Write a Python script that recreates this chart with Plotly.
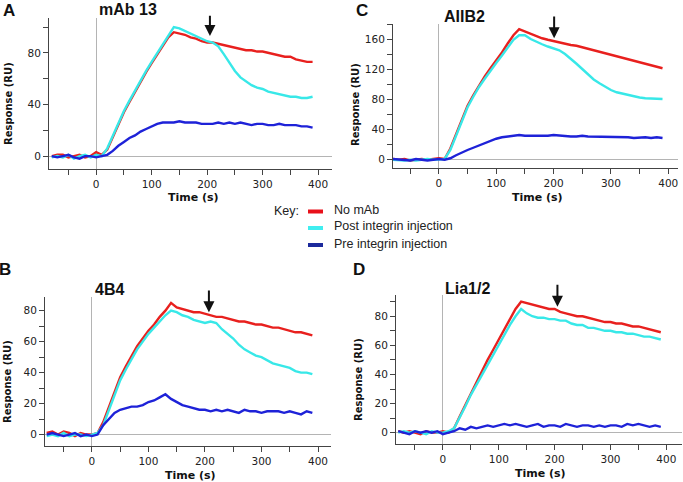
import plotly.graph_objects as go

W, H = 683, 482

# ---------------- data ----------------
time_s = list(range(-80, 400, 10))

series_names = ["No mAb", "Post integrin injection", "Pre integrin injection"]
panel_letters = ["A", "C", "B", "D"]
panel_titles = ["mAb 13", "AIIB2", "4B4", "Lia1/2"]
arrow_times = [205, 201, 207, 205]

red_A = [0, 1, 1, -1, 0, 1, -1, 0, 3, 1,
         5, 15, 25, 34, 42, 50, 58, 65, 72, 79,
         86, 92, 96, 95, 94, 92, 91, 89, 88, 88,
         87, 86, 85, 84, 83, 82, 82, 81, 81, 80,
         79, 78, 77, 77, 75, 74, 73, 73]
cyan_A = [-1, 0, -1, 1, -2, 0, 1, -1, 1, 0,
          6, 16, 26, 35, 43, 51, 59, 66, 73, 80,
          87, 94, 100, 99, 97, 95, 93, 91, 89, 88,
          85, 79, 72, 66, 61, 58, 55, 53, 52, 50,
          49, 48, 47, 46, 46, 45, 45, 46]
blue_A = [0, -1, 0, 1, -1, -2, 0, 0, -1, 0,
          1, 4, 8, 11, 14, 16, 19, 21, 23, 25,
          26, 26, 26, 27, 26, 26, 26, 25, 25, 25,
          26, 25, 26, 25, 26, 25, 24, 25, 25, 24,
          24, 25, 24, 24, 24, 23, 23, 22]

red_C = [1, 0, 1, -1, 0, 1, 0, 1, 2, 1,
         15, 34, 53, 72, 86, 99, 111, 122, 132, 143,
         155, 166, 174, 171, 167, 164, 162, 160, 158, 156,
         155, 153, 152, 150, 148, 146, 144, 142, 140, 138,
         136, 134, 132, 131, 128, 126, 124, 122]
cyan_C = [0, -1, -1, 0, -1, 0, 1, 0, 0, 1,
          13, 32, 51, 70, 84, 97, 108, 119, 129, 139,
          150, 160, 166, 166, 161, 157, 154, 151, 149, 146,
          141, 135, 128, 121, 114, 107, 102, 97, 93, 90,
          88, 86, 84, 83, 82, 82, 81, 81]
blue_C = [1, 0, 0, -1, 1, 0, -1, 0, 1, 0,
          2, 6, 10, 13, 16, 19, 23, 26, 28, 30,
          31, 32, 33, 32, 32, 32, 31, 32, 33, 32,
          32, 31, 31, 32, 31, 31, 30, 30, 30, 30,
          30, 30, 29, 30, 30, 29, 30, 29]

red_B = [1, 2, 0, 2, 1, -1, 1, 0, 0, 1,
         8, 18, 28, 37, 44, 51, 57, 62, 67, 71,
         76, 80, 85, 82, 81, 80, 79, 79, 78, 77,
         76, 76, 75, 74, 73, 73, 72, 71, 71, 70,
         69, 69, 68, 67, 66, 66, 65, 64]
cyan_B = [-1, 0, -1, 1, -1, 0, 0, -1, 0, 1,
          6, 16, 26, 35, 42, 49, 55, 60, 65, 69,
          73, 77, 80, 79, 77, 76, 74, 73, 72, 73,
          72, 68, 65, 62, 58, 55, 53, 51, 50, 48,
          46, 45, 44, 43, 41, 40, 40, 39]
blue_B = [0, 1, 0, -1, 0, 1, -1, 0, -1, 0,
          6, 10, 14, 16, 17, 18, 18, 19, 21, 22,
          24, 26, 23, 21, 19, 18, 17, 16, 16, 15,
          16, 15, 16, 15, 14, 16, 15, 15, 14, 15,
          15, 15, 14, 15, 14, 13, 15, 14]

red_D = [1, 0, 1, 0, -1, 1, 0, 0, 1, 0,
         3, 11, 19, 27, 35, 42, 50, 57, 64, 71,
         78, 85, 90, 89, 88, 87, 86, 85, 85, 83,
         82, 81, 80, 80, 79, 78, 77, 76, 76, 75,
         75, 74, 73, 73, 72, 71, 70, 69]
cyan_D = [0, 1, 0, 1, 0, -1, 1, 0, 0, 1,
          3, 10, 18, 26, 33, 40, 47, 54, 61, 67,
          74, 80, 85, 82, 80, 79, 79, 78, 78, 77,
          77, 75, 74, 74, 72, 72, 71, 70, 70, 69,
          69, 68, 68, 67, 66, 66, 65, 64]
blue_D = [1, 0, -1, 1, 0, 1, 0, 1, -1, 0,
          1, 3, 2, 4, 3, 4, 5, 4, 5, 6,
          5, 6, 5, 4, 5, 6, 4, 5, 5, 4,
          6, 5, 4, 5, 5, 4, 5, 4, 5, 5,
          4, 6, 5, 6, 5, 4, 5, 4]

panel_series = [
    (red_A, cyan_A, blue_A),
    (red_C, cyan_C, blue_C),
    (red_B, cyan_B, blue_B),
    (red_D, cyan_D, blue_D),
]

# ---------------- layout / style ----------------
LINE_COLORS = ["#e8201e", "#38e8e8", "#1e22d8"]
KEY_COLORS = ["#e8101a", "#40eef0", "#1c2a9c"]

# pixel boxes of plot areas: (left, right, top, bottom)
boxes = [(49, 332, 18, 169), (393, 678, 24, 168),
         (45, 331, 297, 446), (396, 682, 295, 444)]
xranges = [[-85, 425], [-80, 417], [-83, 423], [-84, 428]]
yranges = [[-10, 107], [-11, 181], [-7.4, 88.8], [-7.8, 94.6]]
ydticks = [40, 40, 20, 20]
letter_pos = [(9, 10), (362, 10), (5, 269), (359, 269)]
title_pos = [(97, 9), (442, 17), (93, 289), (443, 288)]
xtitle_pos = [(193, 197), (537, 197), (190, 475), (540, 473)]
ytitle_pos = [(8, 104), (355, 105), (7, 382), (358, 380)]
arrow_tops = [110, 193, 94, 102.6]
arrow_heads = [93, 162, 79, 86.6]


def px(x):
    return x / W


def py(y):
    return 1 - y / H


def label(text, x, y, font, xanchor="center", angle=0):
    return dict(text=text, x=px(x), y=py(y), xref="paper", yref="paper",
                xanchor=xanchor, yanchor="middle", showarrow=False,
                textangle=angle, font=font)


fig = go.Figure()
annotations = []
shapes = []
layout_axes = {}

for i in range(4):
    xa = "x" if i == 0 else f"x{i+1}"
    ya = "y" if i == 0 else f"y{i+1}"
    xkey = "xaxis" if i == 0 else f"xaxis{i+1}"
    ykey = "yaxis" if i == 0 else f"yaxis{i+1}"
    l, r, t, b = boxes[i]
    for s, (vals, col) in enumerate(zip(panel_series[i], LINE_COLORS)):
        fig.add_trace(go.Scatter(
            x=time_s, y=vals, mode="lines", name=series_names[s],
            line=dict(color=col, width=2.4), xaxis=xa, yaxis=ya,
            showlegend=False))
    tickfont = dict(family="DejaVu Sans", size=10.5, color="#222")
    layout_axes[xkey] = dict(
        domain=[px(l), px(r)], range=xranges[i], anchor=ya,
        showgrid=False, zeroline=True, zerolinecolor="#b4b4b4", zerolinewidth=1,
        showline=True, linecolor="#444", linewidth=1,
        ticks="outside", ticklen=5, tickcolor="#444", dtick=100, tick0=0,
        minor=dict(dtick=50, tick0=0, ticks="outside", ticklen=5, tickcolor="#444"),
        tickfont=tickfont)
    layout_axes[ykey] = dict(
        domain=[py(b), py(t)], range=yranges[i], anchor=xa,
        showgrid=False, zeroline=True, zerolinecolor="#b4b4b4", zerolinewidth=1,
        showline=True, linecolor="#444", linewidth=1,
        ticks="outside", ticklen=5, tickcolor="#444", dtick=ydticks[i], tick0=0,
        minor=dict(dtick=ydticks[i] / 2, tick0=0, ticks="outside", ticklen=5, tickcolor="#444"),
        tickfont=tickfont)

    lx, ly = letter_pos[i]
    annotations.append(label(f"<b>{panel_letters[i]}</b>", lx, ly,
                             dict(family="Liberation Sans", size=17, color="#111")))
    tx, ty = title_pos[i]
    annotations.append(label(f"<b>{panel_titles[i]}</b>", tx, ty,
                             dict(family="Liberation Sans", size=16, color="#111"),
                             xanchor="left"))
    xtx, xty = xtitle_pos[i]
    annotations.append(label("<b>Time (s)</b>", xtx, xty,
                             dict(family="DejaVu Sans", size=11, color="#111")))
    ytx, yty = ytitle_pos[i]
    annotations.append(label("<b>Response (RU)</b>", ytx, yty,
                             dict(family="DejaVu Sans", size=10, color="#111"), angle=-90))
    annotations.append(dict(x=arrow_times[i], y=arrow_heads[i], ax=arrow_times[i],
                            ay=arrow_tops[i], xref=xa, yref=ya, axref=xa, ayref=ya,
                            text="", showarrow=True, arrowhead=2, arrowsize=1.1,
                            arrowwidth=2, arrowcolor="#111"))

# key
key_font = dict(family="Liberation Sans", size=12.5, color="#222")
annotations.append(label("Key:", 272, 211, key_font, xanchor="left"))
key_rows = [211.5, 228, 245]
key_text_rows = [209.5, 225.5, 243.5]
for name, col, ry, ty in zip(series_names, KEY_COLORS, key_rows, key_text_rows):
    shapes.append(dict(type="line", xref="paper", yref="paper",
                       x0=px(308), x1=px(323), y0=py(ry), y1=py(ry),
                       line=dict(color=col, width=4)))
    annotations.append(label(name, 332, ty, key_font, xanchor="left"))

fig.update_layout(
    width=W, height=H, margin=dict(l=0, r=0, t=0, b=0),
    paper_bgcolor="white", plot_bgcolor="white",
    annotations=annotations, shapes=shapes, **layout_axes)

fig.write_html("out.html", config={"displayModeBar": False},
               post_script="document.body.style.margin='0px';"
                           "document.body.style.overflow='hidden';")
